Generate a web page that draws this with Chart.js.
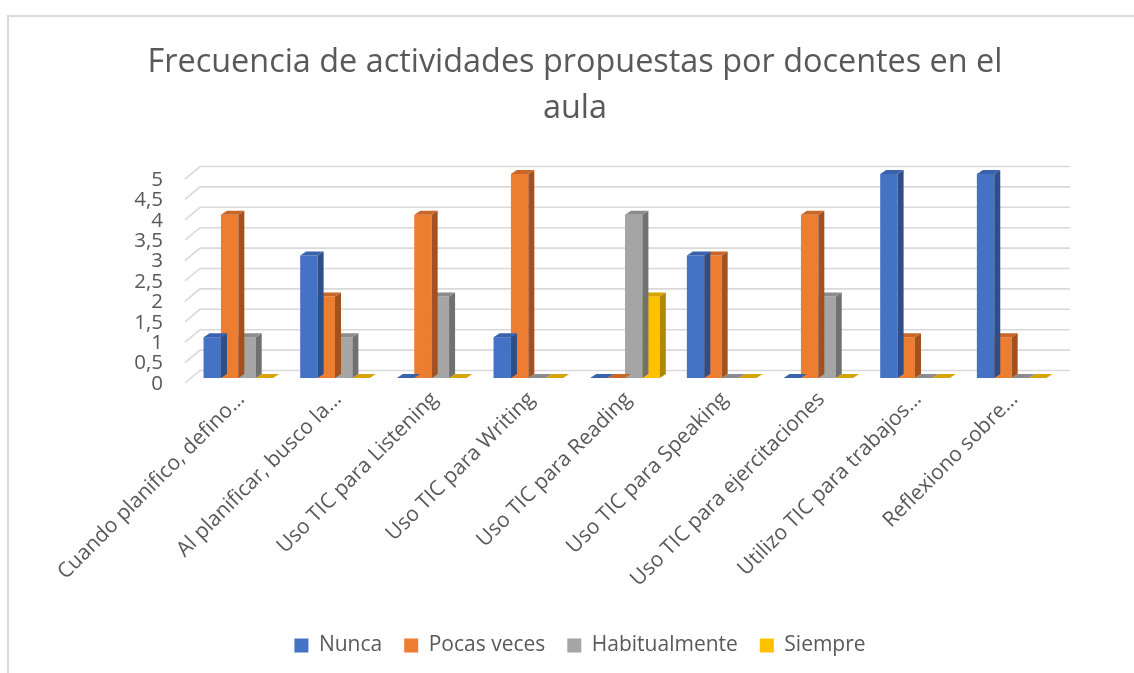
<!DOCTYPE html>
<html lang="es">
<head>
<meta charset="utf-8">
<title>Frecuencia de actividades propuestas por docentes en el aula</title>
<script src="https://cdn.jsdelivr.net/npm/chart.js@4.4.1/dist/chart.umd.min.js"></script>
<style>
  html, body { margin: 0; padding: 0; background: #fff; }
  #marco { position: absolute; left: 0; top: 0; width: 1134px; height: 673px; overflow: hidden; }
  #borde { position: absolute; left: 7px; top: 15px; right: -4px; bottom: -4px; border-left: 2px solid #d9d9d9; border-top: 2px solid #d9d9d9; }
  canvas { position: absolute; left: 0; top: 0; }
</style>
</head>
<body>
<div id="marco">
  <div id="borde"></div>
  <canvas id="grafica" width="1134" height="673"></canvas>
</div>
<script>
const categorias = [
    'Cuando planifico, defino…',
    'Al planificar, busco la…',
    'Uso TIC para Listening',
    'Uso TIC para Writing',
    'Uso TIC para Reading',
    'Uso TIC para Speaking',
    'Uso TIC para ejercitaciones',
    'Utilizo TIC para trabajos…',
    'Reflexiono sobre…'
];
const nunca         = [1, 3, 0, 1, 0, 3, 0, 5, 5];
const pocasVeces    = [4, 2, 4, 5, 0, 3, 4, 1, 1];
const habitualmente = [1, 1, 2, 0, 4, 0, 2, 0, 0];
const siempre       = [0, 0, 0, 0, 2, 0, 0, 0, 0];
const etiquetasY = ['0', '0,5', '1', '1,5', '2', '2,5', '3', '3,5', '4', '4,5', '5'];

const fuente = "'Open Sans', 'DejaVu Sans', sans-serif";
const gris = '#595959';

// desplazamiento de la cara trasera de cada columna
const fondoX = 6;
const fondoY = 4;

// lineas de division sobre la pared del fondo, con su tramo diagonal a la izquierda
const rejilla3D = {
    id: 'rejilla3D',
    beforeDatasetsDraw(chart) {
        const { ctx, chartArea } = chart;
        const y = chart.scales.y;
        ctx.save();
        ctx.strokeStyle = '#d9d9d9';
        ctx.lineWidth = 1.6;
        y.ticks.forEach(t => {
            const py = y.getPixelForValue(t.value);
            ctx.beginPath();
            ctx.moveTo(chartArea.left - 5, py + 5);
            ctx.lineTo(chartArea.left + 10, py - 7.5);
            ctx.lineTo(chartArea.right + 10, py - 7.5);
            ctx.stroke();
        });
        ctx.restore();
    }
};

// caras lateral y superior de las columnas
const caras3D = {
    id: 'caras3D',
    afterDatasetDraw(chart, args) {
        const { ctx } = chart;
        const ds = chart.data.datasets[args.index];
        ctx.save();
        args.meta.data.forEach(barra => {
            const izq = barra.x - barra.width / 2;
            const der = barra.x + barra.width / 2;
            const arriba = barra.y;
            const abajo = barra.base;

            ctx.fillStyle = ds.colorLateral;
            ctx.beginPath();
            ctx.moveTo(der, arriba);
            ctx.lineTo(der + fondoX, arriba - fondoY);
            ctx.lineTo(der + fondoX, abajo - fondoY);
            ctx.lineTo(der, abajo);
            ctx.closePath();
            ctx.fill();

            ctx.fillStyle = ds.colorSuperior;
            ctx.beginPath();
            ctx.moveTo(izq, arriba);
            ctx.lineTo(izq + fondoX, arriba - fondoY);
            ctx.lineTo(der + fondoX, arriba - fondoY);
            ctx.lineTo(der, arriba);
            ctx.closePath();
            ctx.fill();
        });
        ctx.restore();
    }
};

// recoloca titulo y leyenda respecto al area del grafico
const ajusteCajas = {
    id: 'ajusteCajas',
    afterLayout(chart) {
        chart.titleBlock.left += 45;
        chart.titleBlock.right += 45;
        chart.legend.left += 50;
        chart.legend.right += 50;
        chart.legend.top -= 7;
        chart.legend.bottom -= 7;
    }
};

const ctx = document.getElementById('grafica').getContext('2d');
new Chart(ctx, {
    type: 'bar',
    data: {
        labels: categorias,
        datasets: [
            { label: 'Nunca', data: nunca, backgroundColor: '#4472C4', colorSuperior: '#3A62AB', colorLateral: '#2D4E88' },
            { label: 'Pocas veces', data: pocasVeces, backgroundColor: '#ED7D31', colorSuperior: '#C9662A', colorLateral: '#A2521F' },
            { label: 'Habitualmente', data: habitualmente, backgroundColor: '#A5A5A5', colorSuperior: '#8C8C8C', colorLateral: '#717171' },
            { label: 'Siempre', data: siempre, backgroundColor: '#FFC000', colorSuperior: '#D6A300', colorLateral: '#B08600' }
        ]
    },
    options: {
        responsive: false,
        animation: false,
        categoryPercentage: 0.72,
        barPercentage: 1.0,
        layout: { padding: { left: 0, right: 74, top: 0, bottom: 0 } },
        plugins: {
            title: {
                display: true,
                text: ['Frecuencia de actividades propuestas por docentes en el', 'aula'],
                color: gris,
                font: { family: fuente, size: 32.4, weight: 'normal', lineHeight: 1.42 },
                padding: { top: 40, bottom: 42 }
            },
            legend: {
                position: 'bottom',
                labels: {
                    color: gris,
                    font: { family: fuente, size: 21 },
                    boxWidth: 14,
                    boxHeight: 14,
                    padding: 22
                }
            },
            tooltip: { enabled: false }
        },
        scales: {
            x: {
                grid: { display: false },
                border: { display: false },
                ticks: {
                    autoSkip: false,
                    maxRotation: 45,
                    minRotation: 45,
                    color: gris,
                    font: { family: fuente, size: 21 },
                    padding: 1,
                    labelOffset: 3
                },
                afterFit(scale) { scale.height = 242; }
            },
            y: {
                min: 0,
                max: 5,
                grid: { display: false, drawTicks: false },
                border: { display: false },
                ticks: {
                    stepSize: 0.5,
                    autoSkip: false,
                    color: gris,
                    font: { family: fuente, size: 20.5 },
                    padding: 27,
                    labelOffset: 6,
                    callback: (valor) => etiquetasY[Math.round(valor * 2)]
                },
                afterFit(scale) { scale.width = 190; }
            }
        }
    },
    plugins: [rejilla3D, caras3D, ajusteCajas]
});
</script>
</body>
</html>
